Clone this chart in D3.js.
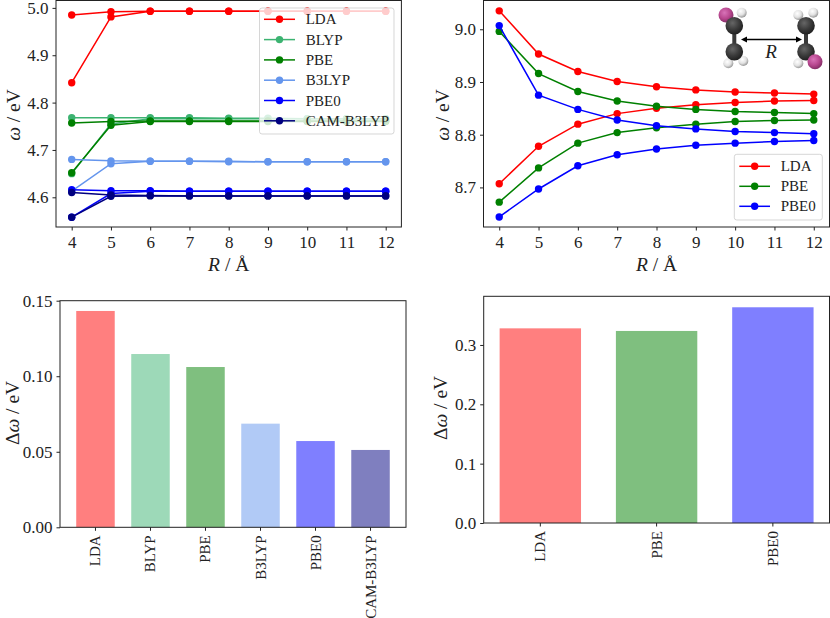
<!DOCTYPE html>
<html>
<head>
<meta charset="utf-8">
<script src="https://cdn.jsdelivr.net/npm/d3@7"></script>
<style>
  html, body { margin: 0; padding: 0; background: #fff; }
  svg { display: block; font-family: "Liberation Serif", serif; fill: #222; }
  .domain, .tick line { stroke: #222; }
</style>
</head>
<body>
<div id="chart"></div>
<script>
const distances = [4, 5, 6, 7, 8, 9, 10, 11, 12];

// left panel, upper and lower branch for each functional
const ldaUpper = [4.985, 4.992, 4.993, 4.993, 4.993, 4.993, 4.993, 4.993, 4.993];
const ldaLower = [4.842, 4.981, 4.993, 4.993, 4.993, 4.993, 4.993, 4.993, 4.993];
const blypUpper = [4.768, 4.768, 4.768, 4.768, 4.767, 4.767, 4.766, 4.766, 4.766];
const blypLower = [4.650, 4.755, 4.766, 4.766, 4.766, 4.766, 4.766, 4.766, 4.766];
const pbeUpper = [4.757, 4.760, 4.761, 4.761, 4.761, 4.761, 4.761, 4.761, 4.761];
const pbeLower = [4.652, 4.752, 4.760, 4.760, 4.760, 4.760, 4.760, 4.760, 4.760];
const b3lypUpper = [4.680, 4.677, 4.676, 4.676, 4.676, 4.675, 4.675, 4.675, 4.675];
const b3lypLower = [4.613, 4.671, 4.676, 4.676, 4.675, 4.675, 4.675, 4.675, 4.675];
const pbe0Upper = [4.616, 4.614, 4.614, 4.613, 4.613, 4.613, 4.613, 4.613, 4.613];
const pbe0Lower = [4.558, 4.608, 4.613, 4.613, 4.613, 4.613, 4.613, 4.613, 4.613];
const camUpper = [4.610, 4.605, 4.604, 4.603, 4.603, 4.603, 4.603, 4.603, 4.603];
const camLower = [4.558, 4.602, 4.603, 4.603, 4.603, 4.603, 4.603, 4.603, 4.603];

// right panel
const ldaUpperB = [9.035, 8.953, 8.920, 8.901, 8.891, 8.885, 8.881, 8.879, 8.877];
const ldaLowerB = [8.707, 8.778, 8.820, 8.840, 8.850, 8.857, 8.861, 8.864, 8.865];
const pbeUpperB = [8.996, 8.916, 8.882, 8.864, 8.854, 8.848, 8.844, 8.842, 8.840];
const pbeLowerB = [8.672, 8.737, 8.784, 8.804, 8.813, 8.820, 8.825, 8.827, 8.828];
const pbe0UpperB = [9.007, 8.875, 8.848, 8.828, 8.817, 8.811, 8.806, 8.804, 8.802];
const pbe0LowerB = [8.644, 8.697, 8.741, 8.762, 8.773, 8.780, 8.784, 8.787, 8.789];

const functionals = ['LDA', 'BLYP', 'PBE', 'B3LYP', 'PBE0', 'CAM-B3LYP'];
const gaps = [0.1432, 0.1147, 0.1061, 0.0686, 0.0571, 0.0512];
const functionalsB = ['LDA', 'PBE', 'PBE0'];
const gapsB = [0.328, 0.3236, 0.3635];

const colors = {
  LDA: '#ff0000',
  BLYP: '#3cb371',
  PBE: '#008000',
  B3LYP: '#6495ed',
  PBE0: '#0000ff',
  'CAM-B3LYP': '#000080'
};

const seriesA = [
  { name: 'LDA', branches: [ldaUpper, ldaLower] },
  { name: 'BLYP', branches: [blypUpper, blypLower] },
  { name: 'PBE', branches: [pbeUpper, pbeLower] },
  { name: 'B3LYP', branches: [b3lypUpper, b3lypLower] },
  { name: 'PBE0', branches: [pbe0Upper, pbe0Lower] },
  { name: 'CAM-B3LYP', branches: [camUpper, camLower] }
];
const seriesB = [
  { name: 'LDA', branches: [ldaUpperB, ldaLowerB] },
  { name: 'PBE', branches: [pbeUpperB, pbeLowerB] },
  { name: 'PBE0', branches: [pbe0UpperB, pbe0LowerB] }
];

const TICK_FONT = 17;
const TITLE_FONT = 19.5;
const svg = d3.select('#chart').append('svg').attr('width', 830).attr('height', 618);

function frame(box) {
  svg.append('rect')
    .attr('x', box.left).attr('y', box.top)
    .attr('width', box.right - box.left).attr('height', box.bottom - box.top)
    .attr('fill', 'none').attr('stroke', '#222').attr('stroke-width', 1);
}

function yTitle(x, y, prefix) {
  const t = svg.append('text')
    .attr('transform', `translate(${x},${y}) rotate(-90)`)
    .attr('text-anchor', 'middle')
    .attr('dominant-baseline', 'central')
    .attr('font-size', TITLE_FONT);
  if (prefix) t.append('tspan').text(prefix);
  t.append('tspan').attr('font-style', 'italic').text('ω');
  t.append('tspan').text(' / eV');
}

function styleAxis(g) {
  g.selectAll('text').attr('font-size', TICK_FONT).attr('font-family', '"Liberation Serif", serif').attr('fill', '#222');
  g.select('.domain').remove();
}

function linePanel(box, xDomain, yDomain, yTicks, yFormat, series) {
  const x = d3.scaleLinear().domain(xDomain).range([box.left, box.right]);
  const y = d3.scaleLinear().domain(yDomain).range([box.bottom, box.top]);
  const line = d3.line().x((d, i) => x(distances[i])).y(d => y(d));

  series.forEach(s => {
    const g = svg.append('g').attr('fill', colors[s.name]);
    s.branches.forEach(values => {
      g.append('path').attr('d', line(values))
        .attr('fill', 'none').attr('stroke', colors[s.name]).attr('stroke-width', 1.5);
      g.selectAll(null).data(values).enter().append('circle')
        .attr('cx', (d, i) => x(distances[i]))
        .attr('cy', d => y(d))
        .attr('r', 3.7);
    });
  });

  svg.append('g').attr('transform', `translate(0,${box.bottom})`)
    .call(d3.axisBottom(x).tickValues(distances).tickFormat(d3.format('d')).tickSize(3.5).tickPadding(5))
    .call(styleAxis);
  svg.append('g').attr('transform', `translate(${box.left},0)`)
    .call(d3.axisLeft(y).tickValues(yTicks).tickFormat(yFormat).tickSize(3.5).tickPadding(4))
    .call(styleAxis);
  frame(box);

  const t = svg.append('text')
    .attr('x', (box.left + box.right) / 2).attr('y', 271)
    .attr('text-anchor', 'middle').attr('font-size', TITLE_FONT);
  t.append('tspan').attr('font-style', 'italic').text('R');
  t.append('tspan').text(' / Å');
}

function legend(box, handle, textX, rowTop, rowStep, series) {
  svg.append('rect')
    .attr('x', box.left).attr('y', box.top)
    .attr('width', box.right - box.left).attr('height', box.bottom - box.top)
    .attr('rx', 2.5)
    .attr('fill', '#fff').attr('fill-opacity', 0.8)
    .attr('stroke', '#ccc').attr('stroke-opacity', 0.8).attr('stroke-width', 1);
  series.forEach((s, i) => {
    const yy = rowTop + i * rowStep;
    svg.append('line')
      .attr('x1', handle[0]).attr('x2', handle[1]).attr('y1', yy).attr('y2', yy)
      .attr('stroke', colors[s.name]).attr('stroke-width', 1.5);
    svg.append('circle')
      .attr('cx', (handle[0] + handle[1]) / 2).attr('cy', yy).attr('r', 3.7)
      .attr('fill', colors[s.name]);
    svg.append('text')
      .attr('x', textX).attr('y', yy + 5)
      .attr('font-size', 15).attr('fill', '#222').text(s.name);
  });
}

function barPanel(box, names, values, yDomain, yTicks, yFormat, paddingInner, paddingOuter) {
  const x = d3.scaleBand().domain(names).range([box.left, box.right])
    .paddingInner(paddingInner).paddingOuter(paddingOuter);
  const y = d3.scaleLinear().domain(yDomain).range([box.bottom, box.top]);

  svg.append('g').selectAll('rect').data(names).enter().append('rect')
    .attr('x', d => x(d))
    .attr('y', (d, i) => y(values[i]))
    .attr('width', x.bandwidth())
    .attr('height', (d, i) => y(0) - y(values[i]))
    .attr('fill', d => colors[d])
    .attr('fill-opacity', 0.5);

  const xAxis = svg.append('g').attr('transform', `translate(0,${box.bottom})`)
    .call(d3.axisBottom(x).tickSize(3.5))
    .call(styleAxis);
  xAxis.selectAll('text')
    .attr('font-size', 15)
    .attr('text-anchor', 'end')
    .attr('dominant-baseline', 'central')
    .attr('x', 0).attr('y', 0).attr('dy', null)
    .attr('transform', 'translate(0,8) rotate(-90)');

  svg.append('g').attr('transform', `translate(${box.left},0)`)
    .call(d3.axisLeft(y).tickValues(yTicks).tickFormat(yFormat).tickSize(3.5).tickPadding(4))
    .call(styleAxis);
  frame(box);
}

function molecule() {
  const defs = svg.append('defs');
  const gradient = (id, light, mid, dark) => {
    const g = defs.append('radialGradient').attr('id', id)
      .attr('cx', '40%').attr('cy', '35%').attr('r', '70%');
    g.append('stop').attr('offset', '0%').attr('stop-color', light);
    g.append('stop').attr('offset', '55%').attr('stop-color', mid);
    g.append('stop').attr('offset', '100%').attr('stop-color', dark);
  };
  gradient('atomC', '#666', '#3a3a3a', '#1c1c1c');
  gradient('atomH', '#ffffff', '#e2e2e2', '#8c8c8c');
  gradient('atomI', '#d873b8', '#b8478f', '#7c2a60');

  const inset = svg.append('g').attr('transform', 'translate(700,0)');
  const atoms = [
    ['atomH', 41.7, 12.7, 5], ['atomI', 26, 15, 7.5], ['atomC', 34.3, 25.7, 8.8],
    ['atomH', 28.3, 63.3, 5], ['atomH', 43.3, 61, 5], ['atomC', 34.3, 51.7, 8.8],
    ['atomH', 98.3, 15, 5], ['atomH', 113.3, 12.7, 5], ['atomC', 106, 25.7, 8.8],
    ['atomH', 98.3, 63.3, 5], ['atomC', 106, 51.7, 8.8], ['atomI', 115, 61.7, 7.5]
  ];
  [34.3, 106].forEach(cx => {
    inset.append('line').attr('x1', cx).attr('x2', cx).attr('y1', 25.7).attr('y2', 51.7)
      .attr('stroke', '#3a3a3a').attr('stroke-width', 4);
  });
  inset.selectAll('circle').data(atoms).enter().append('circle')
    .attr('cx', d => d[1]).attr('cy', d => d[2]).attr('r', d => d[3])
    .attr('fill', d => `url(#${d[0]})`);

  inset.append('line').attr('x1', 44).attr('x2', 99).attr('y1', 39.5).attr('y2', 39.5)
    .attr('stroke', '#000').attr('stroke-width', 1.3);
  inset.append('path').attr('d', 'M41,39.5 L47,36.5 L47,42.5 Z').attr('fill', '#000');
  inset.append('path').attr('d', 'M102,39.5 L96,36.5 L96,42.5 Z').attr('fill', '#000');
  inset.append('text').attr('x', 71).attr('y', 58).attr('text-anchor', 'middle')
    .attr('font-size', 19).attr('font-style', 'italic').attr('fill', '#222').text('R');
}

linePanel({ left: 56, right: 401.4, top: 0.5, bottom: 227 }, [3.6, 12.4], [4.5373, 5.0156],
  [4.6, 4.7, 4.8, 4.9, 5.0], d3.format('.1f'), seriesA);
yTitle(13, 115);
legend({ left: 259.5, right: 394, top: 8, bottom: 134 }, [264, 295], 305.7, 19.3, 20.3, seriesA);

linePanel({ left: 483.5, right: 829.5, top: 0.5, bottom: 227 }, [3.6, 12.4], [8.6249, 9.0546],
  [8.7, 8.8, 8.9, 9.0], d3.format('.1f'), seriesB);
yTitle(442, 115);
molecule();
legend({ left: 734.3, right: 822.3, top: 154.3, bottom: 220 }, [739.3, 770], 780.7, 166.3, 20, seriesB);

barPanel({ left: 60, right: 406, top: 300.7, bottom: 527.3 }, functionals, gaps, [0, 0.15],
  [0, 0.05, 0.1, 0.15], d3.format('.2f'), 0.3, 0.295);
yTitle(11.5, 413, 'Δ');

barPanel({ left: 483.7, right: 829.5, top: 296.3, bottom: 523 }, functionalsB, gapsB, [0, 0.382],
  [0, 0.1, 0.2, 0.3], d3.format('.1f'), 0.3, 0.137);
yTitle(440, 408, 'Δ');
</script>
</body>
</html>
